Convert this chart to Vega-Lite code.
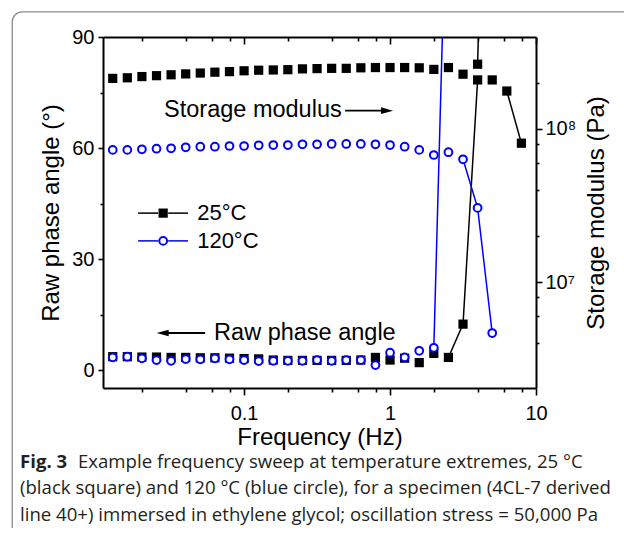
{
  "$schema": "https://vega.github.io/schema/vega-lite/v6.json",
  "width": 433,
  "height": 351,
  "autosize": {"type": "none"},
  "padding": {"left": 103, "top": 37, "right": 88, "bottom": 140},
  "background": "white",
  "config": {
    "view": {"stroke": null},
    "font": "Liberation Sans",
    "axis": {"grid": false, "labelFont": "Liberation Sans", "titleFont": "Liberation Sans", "labelColor": "black", "titleColor": "black", "domainColor": "black", "tickColor": "black", "domainWidth": 2, "tickWidth": 1.6, "labelFontSize": 20, "titleFontSize": 24, "titleFontWeight": "normal", "labelOverlap": false, "labelFlush": false}
  },
  "title": {
    "text": "Fig. 3",
    "orient": "bottom",
    "anchor": "start",
    "frame": "group",
    "dx": -83,
    "offset": -89,
    "font": "Open Sans",
    "fontSize": 18.6,
    "fontWeight": "bold",
    "color": "#231f20",
    "baseline": "top",
    "subtitle": [
      "\u200b\u00a0\u00a0\u00a0\u00a0\u00a0\u00a0\u00a0\u00a0\u00a0\u00a0\u00a0\u00a0Example frequency sweep at temperature extremes, 25 °C",
      "(black square) and 120 °C (blue circle), for a specimen (4CL-7 derived",
      "line 40+) immersed in ethylene glycol; oscillation stress = 50,000 Pa"
    ],
    "subtitleFont": "Open Sans",
    "subtitleFontSize": 18.6,
    "subtitleColor": "#231f20",
    "subtitleLineHeight": 26.5,
    "subtitlePadding": -18.6
  },
  "datasets": {
    "box": [{"f": 0.00258, "f2": 200, "v": 96.8, "v2": -46.2}],
    "pts": [
      {"f": 0.01259, "v": 214000000, "t": "25°C", "k": "m"},
      {"f": 0.01585, "v": 216000000, "t": "25°C", "k": "m"},
      {"f": 0.01995, "v": 220000000, "t": "25°C", "k": "m"},
      {"f": 0.02512, "v": 223000000, "t": "25°C", "k": "m"},
      {"f": 0.03162, "v": 226000000, "t": "25°C", "k": "m"},
      {"f": 0.03981, "v": 229000000, "t": "25°C", "k": "m"},
      {"f": 0.05012, "v": 232000000, "t": "25°C", "k": "m"},
      {"f": 0.0631, "v": 235000000, "t": "25°C", "k": "m"},
      {"f": 0.07943, "v": 237000000, "t": "25°C", "k": "m"},
      {"f": 0.1, "v": 240000000, "t": "25°C", "k": "m"},
      {"f": 0.1259, "v": 242000000, "t": "25°C", "k": "m"},
      {"f": 0.1585, "v": 243000000, "t": "25°C", "k": "m"},
      {"f": 0.1995, "v": 244000000, "t": "25°C", "k": "m"},
      {"f": 0.2512, "v": 247000000, "t": "25°C", "k": "m"},
      {"f": 0.3162, "v": 248000000, "t": "25°C", "k": "m"},
      {"f": 0.3981, "v": 249000000, "t": "25°C", "k": "m"},
      {"f": 0.5012, "v": 249000000, "t": "25°C", "k": "m"},
      {"f": 0.631, "v": 251000000, "t": "25°C", "k": "m"},
      {"f": 0.7943, "v": 252000000, "t": "25°C", "k": "m"},
      {"f": 1, "v": 252000000, "t": "25°C", "k": "m"},
      {"f": 1.259, "v": 252000000, "t": "25°C", "k": "m"},
      {"f": 1.585, "v": 251000000, "t": "25°C", "k": "m"},
      {"f": 1.995, "v": 245000000, "t": "25°C", "k": "m"},
      {"f": 2.512, "v": 252000000, "t": "25°C", "k": "m"},
      {"f": 3.162, "v": 228000000, "t": "25°C", "k": "m"},
      {"f": 3.981, "v": 265000000, "t": "25°C", "k": "m", "s": "km"},
      {"f": 5.012, "v": 1000000000000, "t": "25°C", "k": "m", "s": "km"},

      {"f": 0.01259, "v": 3.6, "t": "25°C", "k": "p"},
      {"f": 0.01585, "v": 3.6, "t": "25°C", "k": "p"},
      {"f": 0.01995, "v": 3.5, "t": "25°C", "k": "p"},
      {"f": 0.02512, "v": 3.5, "t": "25°C", "k": "p"},
      {"f": 0.03162, "v": 3.4, "t": "25°C", "k": "p"},
      {"f": 0.03981, "v": 3.4, "t": "25°C", "k": "p"},
      {"f": 0.05012, "v": 3.3, "t": "25°C", "k": "p"},
      {"f": 0.0631, "v": 3.3, "t": "25°C", "k": "p"},
      {"f": 0.07943, "v": 3.2, "t": "25°C", "k": "p"},
      {"f": 0.1, "v": 3.1, "t": "25°C", "k": "p"},
      {"f": 0.1259, "v": 3.0, "t": "25°C", "k": "p"},
      {"f": 0.1585, "v": 2.7, "t": "25°C", "k": "p"},
      {"f": 0.1995, "v": 2.6, "t": "25°C", "k": "p"},
      {"f": 0.2512, "v": 2.6, "t": "25°C", "k": "p"},
      {"f": 0.3162, "v": 2.6, "t": "25°C", "k": "p"},
      {"f": 0.3981, "v": 2.6, "t": "25°C", "k": "p"},
      {"f": 0.5012, "v": 2.6, "t": "25°C", "k": "p"},
      {"f": 0.631, "v": 2.7, "t": "25°C", "k": "p"},
      {"f": 0.7943, "v": 3.4, "t": "25°C", "k": "p"},
      {"f": 1, "v": 2.7, "t": "25°C", "k": "p"},
      {"f": 1.259, "v": 3.2, "t": "25°C", "k": "p"},
      {"f": 1.585, "v": 2.0, "t": "25°C", "k": "p"},
      {"f": 1.995, "v": 4.5, "t": "25°C", "k": "p"},
      {"f": 2.512, "v": 3.4, "t": "25°C", "k": "p", "s": "k1"},
      {"f": 3.162, "v": 12.4, "t": "25°C", "k": "p", "s": "k1"},
      {"f": 3.981, "v": 78.4, "t": "25°C", "k": "p", "s": "k1"},
      {"f": 5.012, "v": 78.4, "t": "25°C", "k": "p"},
      {"f": 6.31, "v": 75.4, "t": "25°C", "k": "p", "s": "k2"},
      {"f": 7.943, "v": 61.3, "t": "25°C", "k": "p", "s": "k2"},

      {"f": 0.01259, "v": 3.43, "t": "120°C", "k": "p"},
      {"f": 0.01585, "v": 3.6, "t": "120°C", "k": "p"},
      {"f": 0.01995, "v": 3.16, "t": "120°C", "k": "p"},
      {"f": 0.02512, "v": 2.7, "t": "120°C", "k": "p"},
      {"f": 0.03162, "v": 2.5, "t": "120°C", "k": "p"},
      {"f": 0.03981, "v": 2.97, "t": "120°C", "k": "p"},
      {"f": 0.05012, "v": 2.9, "t": "120°C", "k": "p"},
      {"f": 0.0631, "v": 3.16, "t": "120°C", "k": "p"},
      {"f": 0.07943, "v": 2.9, "t": "120°C", "k": "p"},
      {"f": 0.1, "v": 2.7, "t": "120°C", "k": "p"},
      {"f": 0.1259, "v": 2.43, "t": "120°C", "k": "p"},
      {"f": 0.1585, "v": 2.5, "t": "120°C", "k": "p"},
      {"f": 0.1995, "v": 2.5, "t": "120°C", "k": "p"},
      {"f": 0.2512, "v": 2.5, "t": "120°C", "k": "p"},
      {"f": 0.3162, "v": 2.7, "t": "120°C", "k": "p"},
      {"f": 0.3981, "v": 2.5, "t": "120°C", "k": "p"},
      {"f": 0.5012, "v": 2.7, "t": "120°C", "k": "p"},
      {"f": 0.631, "v": 2.7, "t": "120°C", "k": "p"},
      {"f": 0.7943, "v": 1.35, "t": "120°C", "k": "p"},
      {"f": 1, "v": 4.68, "t": "120°C", "k": "p"},
      {"f": 1.259, "v": 3.43, "t": "120°C", "k": "p"},
      {"f": 1.585, "v": 5.2, "t": "120°C", "k": "p"},
      {"f": 1.995, "v": 6.0, "t": "120°C", "k": "p", "s": "b1"},
      {"f": 2.512, "v": 150, "t": "120°C", "k": "p", "s": "b1"},

      {"f": 0.01259, "v": 73000000, "t": "120°C", "k": "m"},
      {"f": 0.01585, "v": 73000000, "t": "120°C", "k": "m"},
      {"f": 0.01995, "v": 73700000, "t": "120°C", "k": "m"},
      {"f": 0.02512, "v": 74300000, "t": "120°C", "k": "m"},
      {"f": 0.03162, "v": 74800000, "t": "120°C", "k": "m"},
      {"f": 0.03981, "v": 75900000, "t": "120°C", "k": "m"},
      {"f": 0.05012, "v": 76600000, "t": "120°C", "k": "m"},
      {"f": 0.0631, "v": 76600000, "t": "120°C", "k": "m"},
      {"f": 0.07943, "v": 77400000, "t": "120°C", "k": "m"},
      {"f": 0.1, "v": 77400000, "t": "120°C", "k": "m"},
      {"f": 0.1259, "v": 78200000, "t": "120°C", "k": "m"},
      {"f": 0.1585, "v": 78500000, "t": "120°C", "k": "m"},
      {"f": 0.1995, "v": 78500000, "t": "120°C", "k": "m"},
      {"f": 0.2512, "v": 79400000, "t": "120°C", "k": "m"},
      {"f": 0.3162, "v": 79400000, "t": "120°C", "k": "m"},
      {"f": 0.3981, "v": 79800000, "t": "120°C", "k": "m"},
      {"f": 0.5012, "v": 79800000, "t": "120°C", "k": "m"},
      {"f": 0.631, "v": 79800000, "t": "120°C", "k": "m"},
      {"f": 0.7943, "v": 79400000, "t": "120°C", "k": "m"},
      {"f": 1, "v": 78500000, "t": "120°C", "k": "m"},
      {"f": 1.259, "v": 76600000, "t": "120°C", "k": "m"},
      {"f": 1.585, "v": 73000000, "t": "120°C", "k": "m"},
      {"f": 1.995, "v": 67600000, "t": "120°C", "k": "m"},
      {"f": 2.512, "v": 70500000, "t": "120°C", "k": "m"},
      {"f": 3.162, "v": 63400000, "t": "120°C", "k": "m", "s": "b2"},
      {"f": 3.981, "v": 30500000, "t": "120°C", "k": "m", "s": "b2"},
      {"f": 5.012, "v": 4640000, "t": "120°C", "k": "m", "s": "b2"}
    ],
    "ann": [
      {"type": "legline", "t": "25°C", "f": 0.0188, "f2": 0.0258, "v": 42.4},
      {"type": "legline", "t": "25°C", "f": 0.0302, "f2": 0.0413, "v": 42.4},
      {"type": "legline", "t": "120°C", "f": 0.0188, "f2": 0.0258, "v": 34.9},
      {"type": "legline", "t": "120°C", "f": 0.0302, "f2": 0.0413, "v": 34.9},
      {"type": "legpt", "t": "25°C", "f": 0.0279, "v": 42.4},
      {"type": "legpt", "t": "120°C", "f": 0.0279, "v": 34.9},
      {"type": "legtext", "f": 0.0477, "v": 42.4, "label": "25°C"},
      {"type": "legtext", "f": 0.0477, "v": 34.9, "label": "120°C"},
      {"type": "note", "f": 0.0283, "v": 70.3, "label": "Storage modulus"},
      {"type": "note", "f": 0.0623, "v": 10.0, "label": "Raw phase angle"},
      {"type": "arrow", "f": 0.492, "f2": 0.895, "v": 70.1},
      {"type": "arrow", "f": 0.0297, "f2": 0.0541, "v": 10.0},
      {"type": "headR", "f": 0.954, "v": 70.1},
      {"type": "headL", "f": 0.0277, "v": 10.0}
    ]
  },
  "layer": [
    {
      "encoding": {
        "x": {"field": "f", "type": "quantitative", "scale": {"type": "log", "domain": [0.0108, 10], "nice": false},
          "axis": {"orient": "bottom", "values": [0.02, 0.04, 0.06, 0.08, 0.1, 0.2, 0.4, 0.6, 0.8, 1, 2, 4, 6, 8, 10],
            "labelExpr": "datum.value == 0.1 ? '0.1' : (datum.value == 1 ? '1' : (datum.value == 10 ? '10' : ''))",
            "tickSize": {"condition": {"test": "datum.value == 0.1 || datum.value == 1 || datum.value == 10", "value": 7}, "value": 4},
            "labelPadding": 8, "title": "Frequency (Hz)", "titlePadding": 2}},
        "y": {"field": "v", "type": "quantitative", "scale": {"domain": [-4.86, 90], "nice": false, "zero": false},
          "axis": {"orient": "left", "values": [0, 15, 30, 45, 60, 75, 90],
            "labelExpr": "datum.value % 30 == 0 ? datum.label : ''",
            "tickSize": {"condition": {"test": "datum.value % 30 == 0", "value": 5}, "value": 3},
            "labelPadding": 4, "title": "Raw phase angle (°)", "titlePadding": 8}}
      },
      "layer": [
        {"data": {"name": "box"}, "mark": {"type": "rect", "filled": false, "stroke": "#8c8c8c", "strokeWidth": 1.3, "cornerRadius": 10, "clip": false},
          "encoding": {"x2": {"field": "f2"}, "y2": {"field": "v2"}}},
        {"data": {"name": "pts"}, "transform": [{"filter": "datum.k == 'p' && datum.s"}],
          "mark": {"type": "line", "clip": true, "strokeWidth": 1.5},
          "encoding": {"color": {"field": "t", "type": "nominal", "scale": {"domain": ["25°C", "120°C"], "range": ["#000000", "#0000ff"]}, "legend": null}, "detail": {"field": "s"}}},
        {"data": {"name": "pts"}, "transform": [{"filter": "datum.k == 'p' && datum.t == '25°C'"}],
          "mark": {"type": "point", "shape": "square", "filled": true, "color": "#000000", "size": 85, "opacity": 1, "clip": true}},
        {"data": {"name": "pts"}, "transform": [{"filter": "datum.k == 'p' && datum.t == '120°C'"}],
          "mark": {"type": "point", "shape": "circle", "filled": true, "fill": "white", "stroke": "#0000ff", "strokeWidth": 2, "size": 60, "opacity": 1, "clip": true}},
        {"data": {"name": "ann"}, "transform": [{"filter": "datum.type == 'legline'"}],
          "mark": {"type": "rule", "strokeWidth": 1.5, "clip": false},
          "encoding": {"x2": {"field": "f2"}, "color": {"field": "t", "type": "nominal", "scale": {"domain": ["25°C", "120°C"], "range": ["#000000", "#0000ff"]}, "legend": null}}},
        {"data": {"name": "ann"}, "transform": [{"filter": "datum.type == 'legpt' && datum.t == '25°C'"}],
          "mark": {"type": "point", "shape": "square", "filled": true, "color": "#000000", "size": 85, "opacity": 1, "clip": false}},
        {"data": {"name": "ann"}, "transform": [{"filter": "datum.type == 'legpt' && datum.t == '120°C'"}],
          "mark": {"type": "point", "shape": "circle", "filled": true, "fill": "white", "stroke": "#0000ff", "strokeWidth": 2, "size": 60, "opacity": 1, "clip": false}},
        {"data": {"name": "ann"}, "transform": [{"filter": "datum.type == 'legtext'"}],
          "mark": {"type": "text", "align": "left", "baseline": "middle", "font": "Liberation Sans", "fontSize": 22, "color": "black", "clip": false},
          "encoding": {"text": {"field": "label"}}},
        {"data": {"name": "ann"}, "transform": [{"filter": "datum.type == 'note'"}],
          "mark": {"type": "text", "align": "left", "baseline": "middle", "font": "Liberation Sans", "fontSize": 23.5, "color": "black", "clip": false},
          "encoding": {"text": {"field": "label"}}},
        {"data": {"name": "ann"}, "transform": [{"filter": "datum.type == 'arrow'"}],
          "mark": {"type": "rule", "strokeWidth": 1.8, "color": "black", "clip": false},
          "encoding": {"x2": {"field": "f2"}}},
        {"data": {"name": "ann"}, "transform": [{"filter": "datum.type == 'headR'"}],
          "mark": {"type": "point", "shape": "M1,0L-1,-0.55L-1,0.55Z", "filled": true, "color": "black", "size": 144, "opacity": 1, "clip": false}},
        {"data": {"name": "ann"}, "transform": [{"filter": "datum.type == 'headL'"}],
          "mark": {"type": "point", "shape": "M-1,0L1,-0.55L1,0.55Z", "filled": true, "color": "black", "size": 144, "opacity": 1, "clip": false}}
      ]
    },
    {
      "data": {"name": "pts"},
      "transform": [{"filter": "datum.k == 'm'"}],
      "encoding": {
        "x": {"field": "f", "type": "quantitative", "scale": {"type": "log", "domain": [0.0108, 10], "nice": false},
          "axis": {"orient": "top", "values": [0.02, 0.04, 0.06, 0.08, 0.1, 0.2, 0.4, 0.6, 0.8, 1, 2, 4, 6, 8, 10], "labels": false, "title": null,
            "tickSize": {"condition": {"test": "datum.value == 0.1 || datum.value == 1 || datum.value == 10", "value": -7}, "value": -4}}},
        "y": {"field": "v", "type": "quantitative", "scale": {"type": "log", "domain": [2030000, 399000000], "nice": false},
          "axis": {"orient": "right", "values": [2000000, 4000000, 6000000, 8000000, 10000000, 20000000, 40000000, 60000000, 80000000, 100000000, 200000000],
            "labelExpr": "datum.value == 10000000 ? '10⁷' : (datum.value == 100000000 ? '10⁸' : '')",
            "tickSize": {"condition": {"test": "datum.value == 10000000 || datum.value == 100000000", "value": 6}, "value": 3},
            "labelPadding": 3, "title": "Storage modulus (Pa)", "titleAngle": 270, "titleBaseline": "top", "titlePadding": 9}}
      },
      "layer": [
        {"transform": [{"filter": "datum.s"}], "mark": {"type": "line", "clip": true, "strokeWidth": 1.5},
          "encoding": {"color": {"field": "t", "type": "nominal", "scale": {"domain": ["25°C", "120°C"], "range": ["#000000", "#0000ff"]}, "legend": null}, "detail": {"field": "s"}}},
        {"transform": [{"filter": "datum.t == '25°C'"}],
          "mark": {"type": "point", "shape": "square", "filled": true, "color": "#000000", "size": 85, "opacity": 1, "clip": true}},
        {"transform": [{"filter": "datum.t == '120°C'"}],
          "mark": {"type": "point", "shape": "circle", "filled": true, "fill": "white", "stroke": "#0000ff", "strokeWidth": 2, "size": 60, "opacity": 1, "clip": true}}
      ]
    }
  ],
  "resolve": {"scale": {"x": "independent", "y": "independent"}, "axis": {"x": "independent", "y": "independent"}}
}
